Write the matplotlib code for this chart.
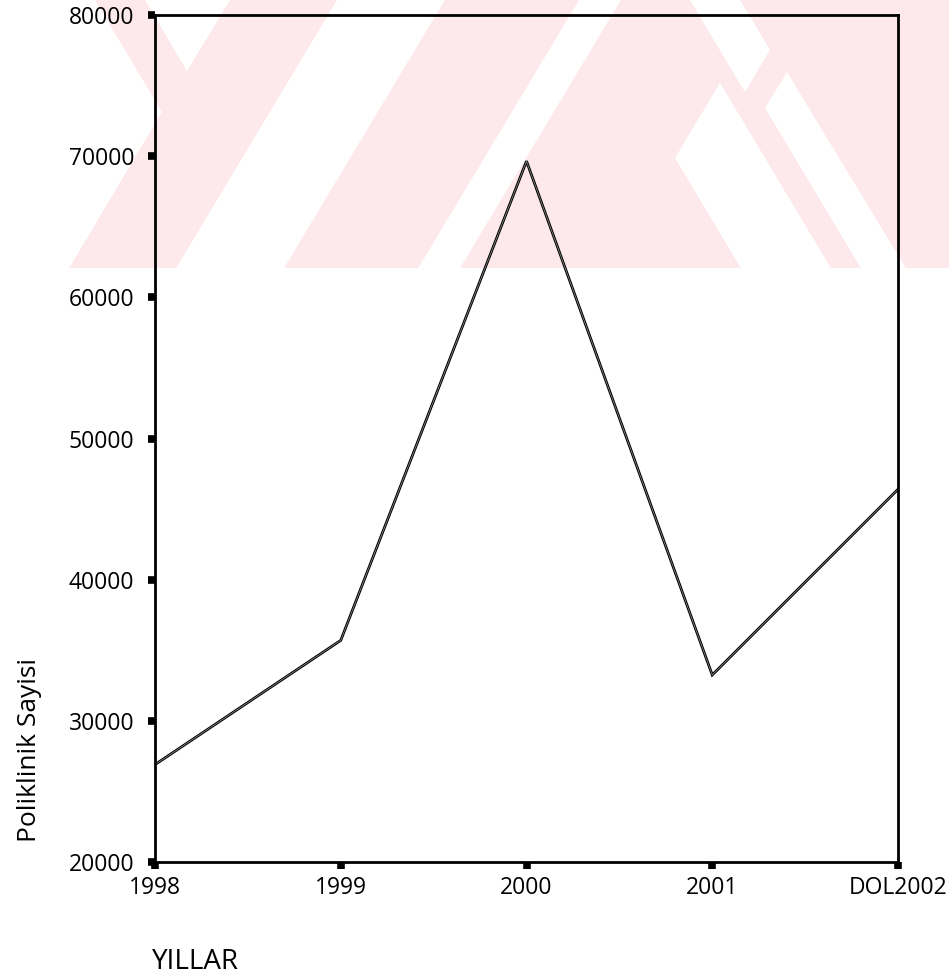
import matplotlib
matplotlib.use("Agg")
import matplotlib.pyplot as plt
from matplotlib.patches import Polygon

plt.rcParams['font.family'] = ['Open Sans', 'DejaVu Sans']

# data
years = ['1998', '1999', '2000', '2001', 'DOL2002']
poliklinik = [26900, 35700, 69650, 33250, 46400]

y_ticks = [20000, 30000, 40000, 50000, 60000, 70000, 80000]

fig = plt.figure(figsize=(9.49, 9.80), dpi=100)

# faint watermark behind the chart, page pixel coords, slanted bands
bg = fig.add_axes([0, 0, 1, 1], zorder=0)
bg.set_xlim(0, 949)
bg.set_ylim(980, 0)
bg.axis('off')
pink = '#fde8ec'
H = 268
k = 0.6


def band_sl(c0, c1, y0=0, y1=H):
    # "/" band: x + k*y between c0 and c1
    return [(c0 - k*y0, y0), (c1 - k*y0, y0), (c1 - k*y1, y1), (c0 - k*y1, y1)]


bg.add_patch(Polygon([(95, 0), (949, 0), (949, H), (230 - k*H, H), (162, 112)],
                     closed=True, facecolor=pink, edgecolor='none'))
cuts = [
    [(145, 0), (230, 0), (187, 71)],
    band_sl(337, 445),
    band_sl(579, 621),
    [(675, 158), (720, 83), (670 + k*H, H), (580 + k*H, H)],
    [(690, 0), (740, 0), (770, 50), (745, 92)],
    [(765, 108), (787, 72), (745 + k*H, H), (700 + k*H, H)],
]
for c in cuts:
    bg.add_patch(Polygon(c, closed=True, facecolor='white', edgecolor='none'))

ax = fig.add_axes([155/949, 1 - 862/980, 743/949, 847/980], zorder=1)
ax.set_facecolor('none')

x = list(range(len(years)))
ax.plot(x, poliklinik, color='black', linewidth=2.0, solid_joinstyle='miter')
ax.plot(x, poliklinik, color='#9a9a9a', linewidth=0.5)

ax.set_xlim(0, len(years) - 1)
ax.set_ylim(20000, 80000)
ax.set_xticks(x)
ax.set_xticklabels(years)
ax.set_yticks(y_ticks)
ax.set_yticklabels([str(v) for v in y_ticks])

for s in ax.spines.values():
    s.set_linewidth(2.0)
    s.set_color('black')

ax.tick_params(axis='both', direction='out', length=5, width=5.5, color='black',
               labelsize=16.5, top=False, right=False)
ax.tick_params(axis='y', pad=10)
ax.tick_params(axis='x', pad=5)

fig.text(30/949, 1 - 750/980, 'Poliklinik Sayisi', rotation=90,
         ha='center', va='center', fontsize=19)
fig.text(152/949, 1 - 962/980, 'YILLAR', ha='left', va='center', fontsize=20)

fig.savefig('out.png', dpi=100)
